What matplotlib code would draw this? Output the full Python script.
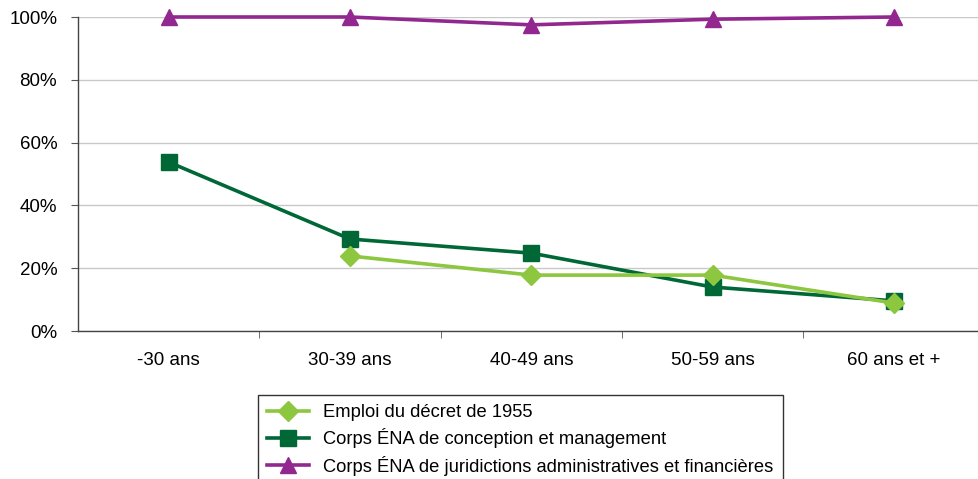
import matplotlib.pyplot as plt
import numpy as np

plt.rcParams['font.family'] = ['Liberation Sans', 'DejaVu Sans']

# age groups
categories = ['-30 ans', '30-39 ans', '40-49 ans', '50-59 ans', '60 ans et +']

# shares (%) per age group
emploi_1955 = [np.nan, 23.9, 17.8, 17.8, 8.9]
ena_conception = [53.8, 29.3, 24.8, 14.0, 9.6]
ena_juridictions = [100.0, 100.0, 97.5, 99.3, 100.0]

series_labels = ['Emploi du décret de 1955',
                 'Corps ÉNA de conception et management',
                 'Corps ÉNA de juridictions administratives et financières']

W, H = 979, 479
fig = plt.figure(figsize=(W / 100, H / 100), dpi=100)
# plot area in pixels: left 78, right 984.5 (clipped by figure), y0 at 331, 100% at 17
ax = fig.add_axes([78 / W, (H - 331) / H, (984.5 - 78) / W, (331 - 17) / H])

x = np.arange(len(categories))
ax.plot(x, np.array(emploi_1955) / 100, color='#8DC63F', lw=2.6, marker='D',
        markersize=10, label=series_labels[0], zorder=4, clip_on=False)
ax.plot(x, np.array(ena_conception) / 100, color='#006837', lw=2.6, marker='s',
        markersize=12, label=series_labels[1], zorder=3, clip_on=False)
ax.plot(x, np.array(ena_juridictions) / 100, color='#92278F', lw=2.6, marker='^',
        markersize=11, label=series_labels[2], zorder=3, clip_on=False)

ax.set_xlim(-0.5, len(categories) - 0.5)
ax.set_ylim(0, 1)
ax.set_yticks(np.arange(0, 1.01, 0.2))
ax.set_yticklabels([f'{int(v * 100)}%' for v in np.arange(0, 1.01, 0.2)])
ax.yaxis.grid(True, color='#c8c8c8', lw=1)
ax.set_axisbelow(True)

ax.set_xticks(x)
ax.set_xticklabels(categories)
ax.set_xticks(np.arange(0.5, len(categories) - 0.5), minor=True)
ax.tick_params(axis='x', which='major', length=0, pad=15, labelsize=13.5)
ax.tick_params(axis='x', which='minor', length=5, direction='out', color='#555555')
ax.tick_params(axis='y', length=5, direction='out', color='#555555', labelsize=13.5, pad=10)

for side in ['top', 'right']:
    ax.spines[side].set_visible(False)
for side in ['left', 'bottom']:
    ax.spines[side].set_color('#444444')
    ax.spines[side].set_linewidth(1)

leg = fig.legend(loc='upper left', bbox_to_anchor=(258 / W, 1 - 395 / H),
                 frameon=True, fancybox=False, edgecolor='black', fontsize=13.2,
                 handlelength=2.3, handletextpad=0.75, labelspacing=0.4,
                 borderpad=0.5, borderaxespad=0)
leg.get_frame().set_linewidth(1)

fig.savefig('out.png', dpi=100)
